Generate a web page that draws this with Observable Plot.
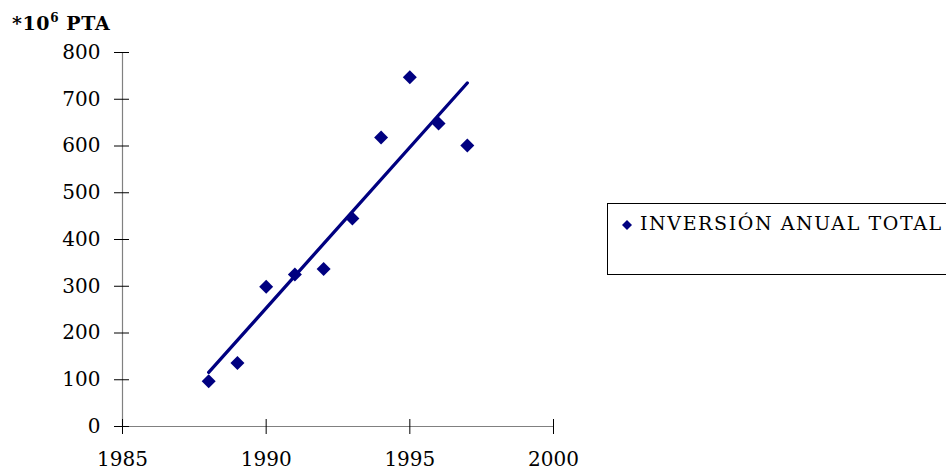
<!DOCTYPE html>
<html><head><meta charset="utf-8">
<script src="https://cdn.jsdelivr.net/npm/d3@7"></script>
<script src="https://cdn.jsdelivr.net/npm/@observablehq/plot@0.6"></script>
<style>
html,body{margin:0;padding:0;background:#fff;overflow:hidden;}
#wrap{position:relative;width:946px;height:471px;overflow:hidden;}
#title{position:absolute;left:12px;top:12px;font:bold 19px 'DejaVu Serif';color:#000;white-space:nowrap;letter-spacing:0.6px;}
#title sup{font-size:12px;position:relative;top:-1px;}
#legend{position:absolute;left:607px;top:203px;width:400px;height:72px;border:1px solid #000;box-sizing:border-box;}
#legend .sw{position:absolute;left:13px;top:15px;}
#legend .lab{position:absolute;left:32px;top:8px;font:19px 'DejaVu Serif';color:#000;white-space:nowrap;letter-spacing:1.6px;}
</style></head>
<body>
<div id="wrap">
  <div id="chart"></div>
  <div id="title">*10<sup>6</sup> PTA</div>
  <div id="legend">
    <svg class="sw" width="12" height="12"><path d="M6,1L11,6L6,11L1,6Z" fill="#000080"/></svg>
    <span class="lab">INVERSIÓN ANUAL TOTAL</span>
  </div>
</div>
<script>
const years = [1988, 1989, 1990, 1991, 1992, 1993, 1994, 1995, 1996, 1997];
const inversion = [97, 136, 299, 325, 337, 445, 618, 747, 648, 601];
const xTicks = [1985, 1990, 1995, 2000];
const yTicks = [0, 100, 200, 300, 400, 500, 600, 700, 800];

const data = years.map((y, i) => ({year: y, value: inversion[i]}));
const navy = "#000080";

const chart = Plot.plot({
  width: 946,
  height: 471,
  marginLeft: 122,
  marginRight: 393,
  marginTop: 52,
  marginBottom: 45,
  style: {fontFamily: "'DejaVu Serif'", fontSize: "20px", color: "#000", background: "#fff"},
  x: {domain: [1985, 2000]},
  y: {domain: [0, 800]},
  marks: [
    Plot.ruleX([1985], {stroke: "#808080", strokeWidth: 1.2}),
    Plot.ruleY([0], {stroke: "#808080", strokeWidth: 1.2}),
    Plot.axisY({ticks: yTicks, tickSize: 15, dx: 7, fill: "none", stroke: "#000", label: null}),
    Plot.axisY({ticks: yTicks, tickSize: 0, tickPadding: 22, label: null}),
    Plot.axisX({ticks: xTicks, tickSize: 15, dy: -7, fill: "none", stroke: "#000", label: null}),
    Plot.axisX({ticks: xTicks, tickSize: 0, tickPadding: 25, tickFormat: d => String(d), label: null}),
    Plot.linearRegressionY(data, {x: "year", y: "value", stroke: navy, strokeWidth: 3.3, ci: 0}),
    Plot.dot(data, {x: "year", y: "value", symbol: "diamond2", r: 6.3, fill: navy, stroke: "none"})
  ]
});
document.getElementById("chart").appendChild(chart);
</script>
</body></html>
